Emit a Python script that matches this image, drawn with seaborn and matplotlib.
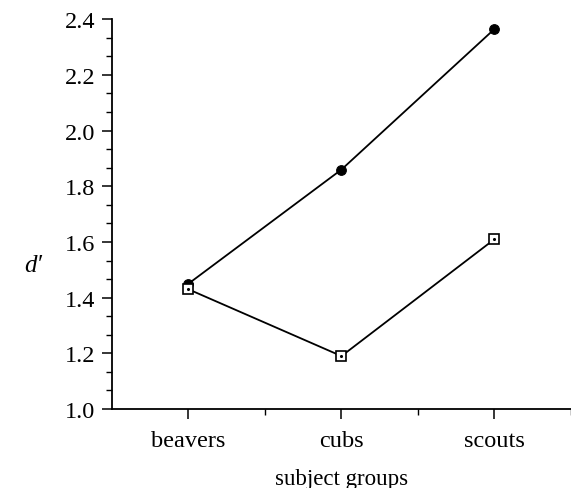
import matplotlib
matplotlib.use("Agg")
import matplotlib.pyplot as plt
from matplotlib.ticker import MultipleLocator, FixedLocator
import seaborn as sns
import pandas as pd

groups = ["beavers", "cubs", "scouts"]
filled_vals = [1.45, 1.86, 2.365]
open_vals = [1.43, 1.19, 1.61]
y_ticks = [1.0, 1.2, 1.4, 1.6, 1.8, 2.0, 2.2, 2.4]

sns.set_theme(style="ticks")
plt.rcParams["font.family"] = ["Liberation Serif", "DejaVu Serif"]

fig = plt.figure(figsize=(5.71, 4.89), dpi=100)
ax = fig.add_axes([0.196, 0.1616, 0.804, 0.797])

df_filled = pd.DataFrame({"group": groups, "d": filled_vals})
df_open = pd.DataFrame({"group": groups, "d": open_vals})

sns.lineplot(data=df_filled, x="group", y="d", ax=ax, color="black", lw=1.3,
             marker="o", markersize=7, markerfacecolor="black",
             markeredgecolor="black", sort=False)
sns.lineplot(data=df_open, x="group", y="d", ax=ax, color="black", lw=1.3,
             marker="s", markersize=7, markerfacecolor="white",
             markeredgecolor="black", markeredgewidth=1.2, sort=False)
# small centre dot inside the open squares
ax.scatter(groups, open_vals, s=1.5, color="black", zorder=5)

ax.set_xlim(-0.5, 2.5)
ax.set_ylim(1.0, 2.4)
ax.set_yticks(y_ticks)
ax.set_yticklabels([f"{v:.1f}" for v in y_ticks])
ax.yaxis.set_minor_locator(MultipleLocator(0.2 / 3))
ax.xaxis.set_minor_locator(FixedLocator([0.5, 1.5, 2.5]))

for side in ("top", "right"):
    ax.spines[side].set_visible(False)
for side in ("left", "bottom"):
    ax.spines[side].set_linewidth(1.3)
    ax.spines[side].set_color("black")

ax.tick_params(axis="both", which="major", direction="out", length=7, width=1.1,
               labelsize=17.5, colors="black", pad=5)
ax.tick_params(axis="x", which="major", pad=8)
ax.tick_params(axis="both", which="minor", direction="out", length=4, width=1.0,
               colors="black")

ax.set_xlabel("subject groups", fontsize=16.5, labelpad=12.5, color="black")
ax.set_ylabel("d\u2032", fontsize=18, style="italic", rotation=0,
              va="center", ha="center", color="black")
ax.yaxis.set_label_coords(-0.172, 0.37)

fig.savefig("out.png", dpi=100)
